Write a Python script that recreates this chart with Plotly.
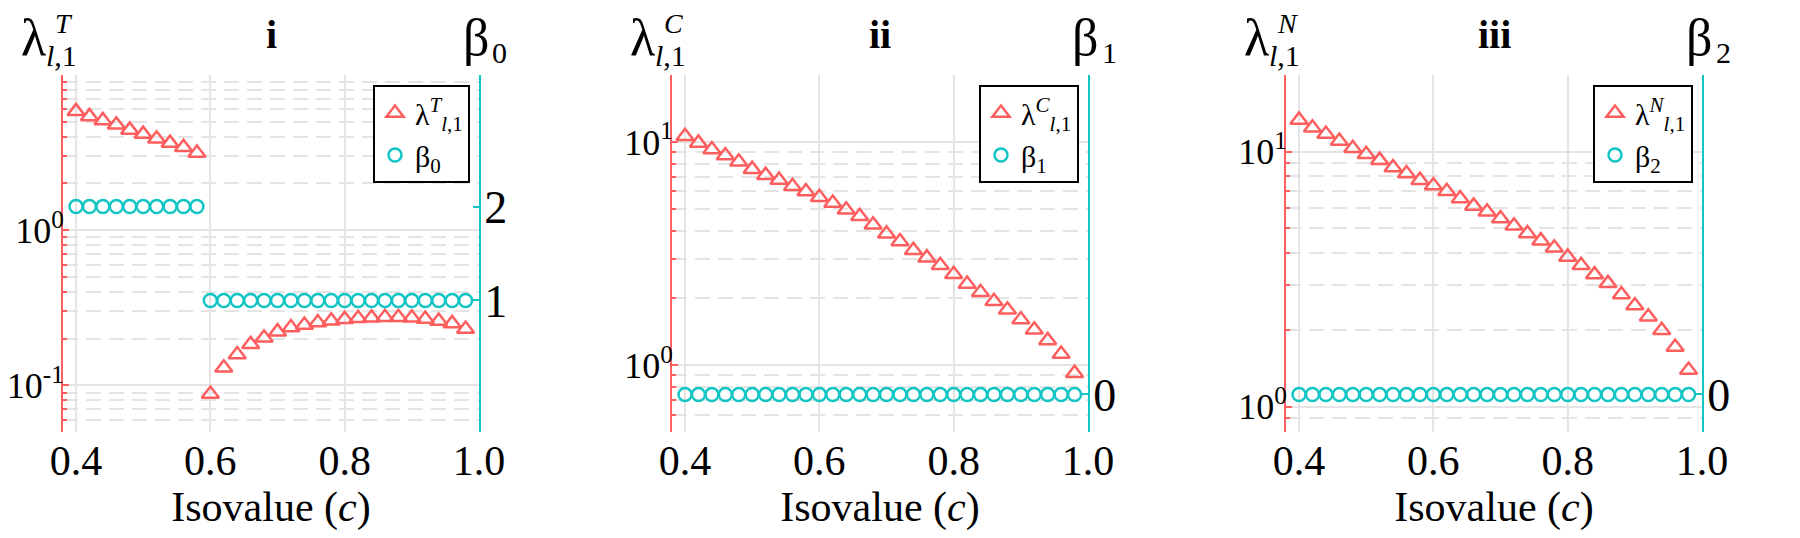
import plotly.graph_objects as go

W, H = 1800, 538
SERIF = "Liberation Serif"
RED = "#FF5E5E"
CYAN = "#12C4C4"
GRID = "#E4E4E4"

isovalue = [0.40, 0.42, 0.44, 0.46, 0.48, 0.50, 0.52, 0.54, 0.56, 0.58,
            0.60, 0.62, 0.64, 0.66, 0.68, 0.70, 0.72, 0.74, 0.76, 0.78,
            0.80, 0.82, 0.84, 0.86, 0.88, 0.90, 0.92, 0.94, 0.96, 0.98]

lam_T = [5.83, 5.41, 5.10, 4.78, 4.43, 4.16, 3.88, 3.64, 3.42, 3.14,
         0.088, 0.130, 0.158, 0.184, 0.203, 0.222, 0.236, 0.245, 0.254, 0.261,
         0.267, 0.271, 0.273, 0.275, 0.275, 0.273, 0.268, 0.260, 0.251, 0.231]
lam_C = [10.6, 9.9, 9.25, 8.7, 8.15, 7.55, 7.1, 6.75, 6.33, 6.0,
         5.65, 5.32, 4.97, 4.64, 4.25, 3.88, 3.58, 3.27, 3.03, 2.80,
         2.55, 2.31, 2.12, 1.93, 1.77, 1.60, 1.44, 1.29, 1.12, 0.92]
lam_N = [13.3, 12.4, 11.7, 11.0, 10.3, 9.75, 9.25, 8.65, 8.2, 7.72,
         7.35, 6.98, 6.54, 6.12, 5.80, 5.46, 5.11, 4.77, 4.47, 4.19,
         3.86, 3.58, 3.29, 3.04, 2.75, 2.49, 2.25, 1.99, 1.71, 1.39]

beta_0 = [2, 2, 2, 2, 2, 2, 2, 2, 2, 2,
          1, 1, 1, 1, 1, 1, 1, 1, 1, 1,
          1, 1, 1, 1, 1, 1, 1, 1, 1, 1]
beta_1 = [0] * 30
beta_2 = [0] * 30

log_major = [0.1, 1, 10]
log_minor = [0.05, 0.06, 0.07, 0.08, 0.09, 0.2, 0.3, 0.4, 0.5, 0.6, 0.7, 0.8, 0.9,
             2, 3, 4, 5, 6, 7, 8, 9, 20]
# panel i has no label on its top gridline (10^1)
log_text = [
    ["10<sup>-1</sup>", "10<sup>0</sup>", ""],
    ["10<sup>-1</sup>", "10<sup>0</sup>", "10<sup>1</sup>"],
    ["10<sup>-1</sup>", "10<sup>0</sup>", "10<sup>1</sup>"],
]

panels = [
    # title, lambda sup, beta idx, lambda data, beta data, log range, beta ticks
    ("i", "T", "0", lam_T, beta_0, [-1.3, 1.0], [1, 2]),
    ("ii", "C", "1", lam_C, beta_1, [-0.3, 1.3], [0]),
    ("iii", "N", "2", lam_N, beta_2, [-0.1, 1.3], [0]),
]
axis_left = [55, 664, 1278]
plot_w = 416
top_px, bot_px = 67, 424

fig = go.Figure()
layout = dict(
    width=W, height=H,
    margin=dict(l=0, r=0, t=0, b=0),
    plot_bgcolor="white", paper_bgcolor="white",
    font=dict(family=SERIF, color="black"),
    annotations=[],
)


def px(x):
    return x / W


def py(y):
    return 1 - y / H


def label(text, x, y, size):
    return dict(text=text, x=px(x), y=py(y), xref="paper", yref="paper",
                xanchor="center", yanchor="middle", showarrow=False,
                font=dict(size=size, family=SERIF))


for i, (title, sup, bidx, lam, beta, lrange, bticks) in enumerate(panels):
    n = i + 1
    xa = "x" if n == 1 else f"x{n}"
    ya = "y" if n == 1 else f"y{2 * n - 1}"
    yb = f"y{2 * n}"
    leg = "legend" if n == 1 else f"legend{n}"
    x0 = axis_left[i]
    x1 = x0 + plot_w

    fig.add_trace(go.Scatter(
        x=isovalue, y=lam, mode="markers", xaxis=xa, yaxis=ya, legend=leg,
        name=f"λ<sup><i>{sup}</i></sup><sub><i>l</i>,1</sub>",
        marker=dict(symbol="triangle-up-open", size=15, color=RED, line=dict(width=2.5)),
        cliponaxis=False,
    ))
    fig.add_trace(go.Scatter(
        x=isovalue, y=beta, mode="markers", xaxis=xa, yaxis=yb, legend=leg,
        name=f"β<sub>{bidx}</sub>",
        marker=dict(symbol="circle-open", size=13, color=CYAN, line=dict(width=2.5)),
        cliponaxis=False,
    ))

    xkey = "xaxis" if n == 1 else f"xaxis{n}"
    yakey = "yaxis" if n == 1 else f"yaxis{2 * n - 1}"
    ybkey = f"yaxis{2 * n}"

    layout[xkey] = dict(
        domain=[px(x0), px(x1)], anchor=ya, range=[0.3806, 1.0], automargin=False,
        tickvals=[0.4, 0.6, 0.8, 1.0], ticktext=["0.4", "0.6", "0.8", "1.0"],
        showgrid=True, gridcolor=GRID, gridwidth=1.5, zeroline=False,
        showline=False, ticks="", tickfont=dict(size=42, family=SERIF),
        title=dict(text="Isovalue (<i>c</i>)", font=dict(size=42, family=SERIF), standoff=4),
    )
    layout[yakey] = dict(
        domain=[py(bot_px), py(top_px)], anchor=xa, type="log", range=lrange,
        automargin=False, tickmode="array", tickvals=log_major, ticktext=log_text[i],
        showgrid=True, gridcolor=GRID, gridwidth=1.5, zeroline=False,
        showline=True, linecolor=RED, linewidth=2,
        ticks="inside", ticklen=6, tickcolor=RED, tickwidth=1.5,
        tickfont=dict(size=36, family=SERIF), ticklabelstandoff=-10,
        minor=dict(tickmode="array", tickvals=log_minor,
                   ticks="inside", ticklen=4, tickcolor=RED, tickwidth=1.5,
                   showgrid=True, gridcolor=GRID, gridwidth=1.5, griddash="15px,8px"),
    )
    layout[ybkey] = dict(
        overlaying=ya, anchor=xa, side="right", range=[-0.4, 3.4], automargin=False,
        tickvals=bticks, ticktext=[str(t) for t in bticks],
        showgrid=False, zeroline=False,
        showline=True, linecolor=CYAN, linewidth=2,
        ticks="inside", ticklen=6, tickcolor=CYAN, tickwidth=1.5,
        tickfont=dict(size=46, family=SERIF), ticklabelstandoff=-6,
    )
    layout[leg] = dict(
        x=px(x1 - 9), y=py(77), xanchor="right", yanchor="top",
        bordercolor="black", borderwidth=2, bgcolor="white",
        font=dict(size=30, family=SERIF), tracegroupgap=0, itemwidth=30,
    )

    ann = layout["annotations"]
    ann.append(label(f"<b>{title}</b>", (x0 + x1) / 2, 26, 40))
    ann.append(label("λ", x0 - 30, 29, 52))
    ann.append(label(f"<i>{sup}</i>", x0 + 1, 16, 28))
    ann.append(label("<i>l</i>,1", x0 - 2, 47, 30))
    ann.append(label("β", x1 - 3, 30, 52))
    ann.append(label(bidx, x1 + 21, 44, 30))

fig.update_layout(**layout)
fig.write_html("out.html")
